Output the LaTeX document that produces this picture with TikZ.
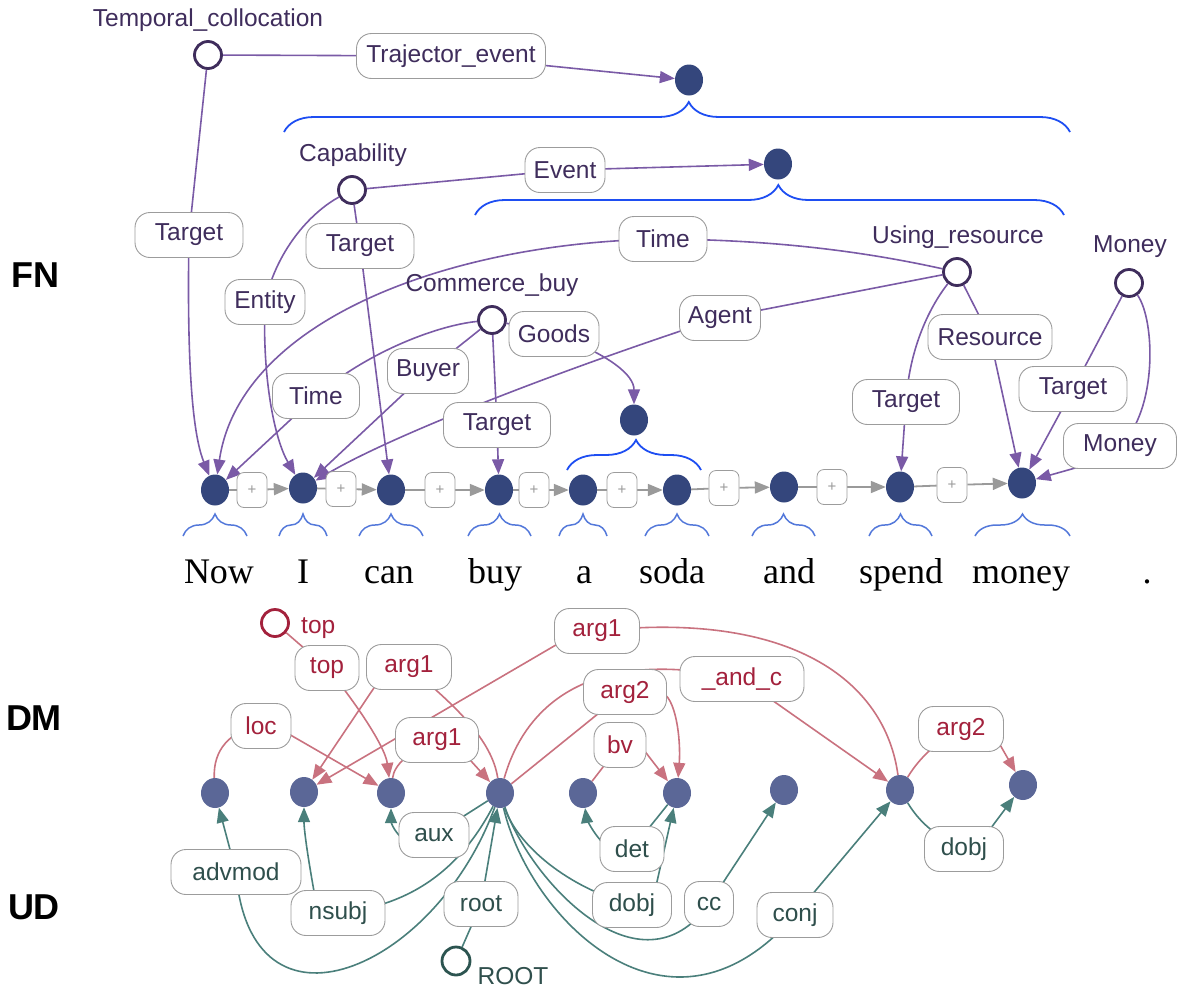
\documentclass[tikz,border=0pt]{standalone}
\usepackage{fontspec}
\setmainfont{Liberation Sans}
\newfontfamily\wordfont{Liberation Serif}
\usetikzlibrary{arrows.meta,decorations.pathreplacing,shapes.geometric}

\definecolor{fnnode}{HTML}{34467C}
\definecolor{fnframe}{HTML}{3F2D5C}
\definecolor{fnedge}{HTML}{7A5AA6}
\definecolor{fntext}{HTML}{3F2D5C}
\definecolor{chaingray}{HTML}{9A9A9A}
\definecolor{boxgray}{HTML}{9C9C9C}
\definecolor{spanblue}{HTML}{1E4EF2}
\definecolor{tokblue}{HTML}{5378DA}
\definecolor{depnode}{HTML}{5B6797}
\definecolor{dmedge}{HTML}{C9727F}
\definecolor{dmtext}{HTML}{A3213C}
\definecolor{udedge}{HTML}{4A7F7B}
\definecolor{udtext}{HTML}{2F4F4C}
\definecolor{udframe}{HTML}{2C5450}

\pgfdeclarelayer{edges}
\pgfsetlayers{edges,main}

\begin{document}
\begin{tikzpicture}[x=1pt,y=-1pt,
  lblfont/.style={font=\fontsize{24.5pt}{28pt}\selectfont},
  side/.style={font=\fontsize{36pt}{40pt}\selectfont\bfseries, text=black},
  word/.style={font=\wordfont\fontsize{36pt}{40pt}\selectfont, anchor=base, inner sep=0pt},
  fntok/.style={ellipse, fill=fnnode, minimum width=28pt, minimum height=31pt, inner sep=0pt},
  deptok/.style={ellipse, fill=depnode, minimum width=28pt, minimum height=30pt, inner sep=0pt},
  frame/.style={circle, draw=fnframe, line width=2.8pt, fill=white, minimum size=27pt, inner sep=0pt},
  dmframe/.style={circle, draw=dmtext, line width=2.8pt, fill=white, minimum size=27pt, inner sep=0pt},
  udframemark/.style={circle, draw=udframe, line width=2.8pt, fill=white, minimum size=28pt, inner sep=0pt},
  framename/.style={lblfont, text=fntext, inner sep=0pt},
  lblbox/.style={lblfont, draw=boxgray, line width=0.9pt, rounded corners=15pt, fill=white,
                 minimum height=45pt, inner xsep=4pt, inner ysep=0pt},
  fnlbl/.style={lblbox, text=fntext},
  dmlbl/.style={lblbox, text=dmtext},
  udlbl/.style={lblbox, text=udtext},
  plusbox/.style={draw=boxgray, line width=0.8pt, rounded corners=7pt, fill=white,
                  minimum width=30pt, minimum height=35pt, inner sep=0pt, text=chaingray,
                  font=\fontsize{15pt}{15pt}\selectfont},
  tip/.style={-{Triangle[length=15pt,width=12pt]}},
  chain/.style={draw=chaingray, line width=1.8pt},
  chainarr/.style={chain, tip},
  fnarr/.style={draw=fnedge, line width=1.6pt, tip},
  dmarr/.style={draw=dmedge, line width=1.6pt, tip},
  udarr/.style={draw=udedge, line width=1.6pt, tip},
  tokbrace/.style={draw=tokblue, line width=1.5pt, decorate, decoration={brace, amplitude=22pt}},
  spanbrace/.style={draw=spanblue, line width=1.8pt, decorate, decoration={brace, amplitude=30pt, aspect=0.515}}
]
\useasboundingbox (0,0) rectangle (1178,991);

% ---------- layer names ----------
\node[side] (labFN) at (35,275) {FN};
\node[side] (labDM) at (34,718) {DM};
\node[side] (labUD) at (34,907) {UD};

% ---------- FrameNet: token nodes and the chain between them ----------
\node[fntok] (f1) at (215,490) {};
\node[fntok] (f2) at (303,488) {};
\node[fntok] (f3) at (391,490) {};
\node[fntok] (f4) at (499,490) {};
\node[fntok] (f5) at (583,490) {};
\node[fntok] (f6) at (677,490) {};
\node[fntok] (f7) at (784,487) {};
\node[fntok] (f8) at (900,487) {};
\node[fntok] (f9) at (1022,483) {};

\node[plusbox] (p1) at (252,490) {+};
\node[plusbox] (p2) at (341,489) {+};
\node[plusbox] (p3) at (440,490) {+};
\node[plusbox] (p4) at (534,490) {+};
\node[plusbox] (p5) at (622,490) {+};
\node[plusbox] (p6) at (724,488) {+};
\node[plusbox] (p7) at (832,487) {+};
\node[plusbox] (p8) at (952,485) {+};

% span nodes
\node[fntok] (s1) at (689,80) {};
\node[fntok] (s2) at (778,164) {};
\node[fntok] (s3) at (634,420) {};

% frames
\node[frame] (fTC) at (208,55) {};
\node[framename] (fTCname) at (208,20) {Temporal\_collocation};
\node[frame] (fCap) at (352,190) {};
\node[framename] (fCapname) at (353,155) {Capability};
\node[frame] (fCB) at (492,320) {};
\node[framename] (fCBname) at (492,285) {Commerce\_buy};
\node[frame] (fUR) at (957,272) {};
\node[framename] (fURname) at (958,237) {Using\_resource};
\node[frame] (fMon) at (1129,283) {};
\node[framename] (fMonname) at (1130,247) {Money};

% frame element labels
\node[fnlbl, minimum width=189pt] (bTraj) at (451,56) {Trajector\_event};
\node[fnlbl, minimum width=108pt] (bTgtA) at (189,235) {Target};
\node[fnlbl, minimum width=80pt] (bEvent) at (565,170) {Event};
\node[fnlbl, minimum width=108pt] (bTgtB) at (360,246) {Target};
\node[fnlbl, minimum width=80pt] (bEntity) at (265,302) {Entity};
\node[fnlbl, minimum width=88pt] (bTimeA) at (663,239) {Time};
\node[fnlbl, minimum width=87pt] (bTimeB) at (316,396) {Time};
\node[fnlbl, minimum width=81pt] (bBuyer) at (428,371) {Buyer};
\node[fnlbl, minimum width=90pt] (bGoods) at (554,334) {Goods};
\node[fnlbl, minimum width=107pt] (bTgtC) at (497,425) {Target};
\node[fnlbl, minimum width=81pt] (bAgent) at (720,318) {Agent};
\node[fnlbl, minimum width=124pt] (bRes) at (990,337) {Resource};
\node[fnlbl, minimum width=107pt] (bTgtD) at (906,402) {Target};
\node[fnlbl, minimum width=108pt] (bTgtE) at (1073,389) {Target};
\node[fnlbl, minimum width=113pt] (bMoney) at (1120,446) {Money};

% braces: tokens and spans
\draw[spanbrace] (284,132) -- (1070,132);
\draw[spanbrace] (475,215) -- (1064,215);
\draw[spanbrace] (567,470) -- (701,470);
\draw[tokbrace] (183,536) -- (247,536);
\draw[tokbrace] (279,536) -- (327,536);
\draw[tokbrace] (359,536) -- (423,536);
\draw[tokbrace] (468,536) -- (531,536);
\draw[tokbrace] (559,536) -- (607,536);
\draw[tokbrace] (645,536) -- (709,536);
\draw[tokbrace] (752,536) -- (815,536);
\draw[tokbrace] (869,536) -- (932,536);
\draw[tokbrace] (975,536) -- (1070,536);

% ---------- sentence ----------
\node[word] (w1) at (219,583) {Now};
\node[word] (w2) at (303,583) {I};
\node[word] (w3) at (389,583) {can};
\node[word] (w4) at (495,583) {buy};
\node[word] (w5) at (584,583) {a};
\node[word] (w6) at (672,583) {soda};
\node[word] (w7) at (789,583) {and};
\node[word] (w8) at (901,583) {spend};
\node[word] (w9) at (1021,583) {money};
\node[word] (w10) at (1147,583) {.};

% ---------- dependency token nodes ----------
\node[deptok] (d1) at (215,793) {};
\node[deptok] (d2) at (304,792) {};
\node[deptok] (d3) at (391,793) {};
\node[deptok] (d4) at (500,793) {};
\node[deptok] (d5) at (583,793) {};
\node[deptok] (d6) at (677,793) {};
\node[deptok] (d7) at (784,790) {};
\node[deptok] (d8) at (900,790) {};
\node[deptok] (d9) at (1023,785) {};

% DM
\node[dmframe] (dTop) at (275,623) {};
\node[anchor=west, lblfont, text=dmtext, inner sep=0pt] (dTopname) at (301,628) {top};
\node[dmlbl, minimum width=64pt] (mTop) at (327,668) {top};
\node[dmlbl, minimum width=85pt] (mArgA) at (409,667) {arg1};
\node[dmlbl, minimum width=60pt] (mLoc) at (261,726) {loc};
\node[dmlbl, minimum width=83pt] (mArgB) at (437,740) {arg1};
\node[dmlbl, minimum width=85pt] (mArgC) at (597,631) {arg1};
\node[dmlbl, minimum width=83pt] (mArg2a) at (625,692) {arg2};
\node[dmlbl, minimum width=52pt] (mBv) at (620,745) {bv};
\node[dmlbl, minimum width=124pt] (mAnd) at (742,679) {\_and\_c};
\node[dmlbl, minimum width=85pt] (mArg2b) at (961,729) {arg2};

% UD
\node[udframemark] (uROOT) at (456,961) {};
\node[lblfont, text=udtext, inner sep=0pt] (uROOTname) at (513,976) {ROOT};
\node[udlbl, minimum width=130pt] (uAdv) at (236,872) {advmod};
\node[udlbl, minimum width=94pt] (uNsubj) at (338,913) {nsubj};
\node[udlbl, minimum width=70pt] (uAux) at (434,835) {aux};
\node[udlbl, minimum width=74pt] (uRoot) at (481,904) {root};
\node[udlbl, minimum width=64pt] (uDet) at (632,849) {det};
\node[udlbl, minimum width=79pt] (uDobjA) at (632,905) {dobj};
\node[udlbl, minimum width=49pt] (uCc) at (709,904) {cc};
\node[udlbl, minimum width=76pt] (uConj) at (795,915) {conj};
\node[udlbl, minimum width=79pt] (uDobjB) at (964,849) {dobj};

% ---------- connectors, drawn beneath the labels ----------
\begin{pgfonlayer}{edges}
  % token chain
  \draw[chain] (f1) -- (p1); \draw[chainarr] (p1) -- (f2);
  \draw[chain] (f2) -- (p2); \draw[chainarr] (p2) -- (f3);
  \draw[chain] (f3) -- (p3); \draw[chainarr] (p3) -- (f4);
  \draw[chain] (f4) -- (p4); \draw[chainarr] (p4) -- (f5);
  \draw[chain] (f5) -- (p5); \draw[chainarr] (p5) -- (f6);
  \draw[chain] (f6) -- (p6); \draw[chainarr] (p6) -- (f7);
  \draw[chain] (f7) -- (p7); \draw[chainarr] (p7) -- (f8);
  \draw[chain] (f8) -- (p8); \draw[chainarr] (p8) -- (f9);

  % FrameNet roles
  \draw[fnarr] (fTC) -- (bTgtA.center) .. controls (186,400) and (197,445) .. (f1);
  \draw[fnarr] (fTC) -- (bTraj.center) -- (s1);
  \draw[fnarr] (fCap) -- (bEvent.center) -- (s2);
  \draw[fnarr] (fCap) -- (bTgtB.center) -- (f3);
  \draw[fnarr] (fCap) .. controls (315,210) and (278,245) .. (bEntity.center)
               .. controls (262,380) and (275,440) .. (f2);
  \draw[fnarr] (fUR) .. controls (880,255) and (790,240) .. (bTimeA.center)
               .. controls (450,242) and (240,320) .. (f1);
  \draw[fnarr] (fUR) -- (bAgent.center) .. controls (560,370) and (393,435) .. (f2);
  \draw[fnarr] (fUR) -- (bRes.center) -- (f9);
  \draw[fnarr] (fUR) .. controls (935,300) and (910,340) .. (bTgtD.center) -- (f8);
  \draw[fnarr] (fMon) -- (bTgtE.center) -- (f9);
  \draw[fnarr] (fMon) .. controls (1155,320) and (1158,410) .. (bMoney.center) -- ++(-20,15) -- (f9);
  \draw[fnarr] (fCB) -- (bGoods.center) .. controls (610,355) and (634,375) .. (s3);
  \draw[fnarr] (fCB) .. controls (440,325) and (370,350) .. (bTimeB.center) -- (f1);
  \draw[fnarr] (fCB) -- (bBuyer.center) -- (f2);
  \draw[fnarr] (fCB) -- (bTgtC.center) -- (f4);

  % DM dependencies
  \draw[dmarr] (dTop) -- (mTop.center) .. controls (350,695) and (385,745) .. (d3);
  \draw[dmarr] (d4) .. controls (492,740) and (455,705) .. (mArgA.center) -- ++(-21,0) -- (d2);
  \draw[dmarr] (d1) .. controls (213,750) and (230,730) .. (mLoc.center) -- ++(0,-8) -- (d3);
  \draw[dmarr] (d3) .. controls (394,765) and (410,750) .. (mArgB.center) -- ++(15,0) -- (d4);
  \draw[dmarr] (d8) .. controls (885,680) and (790,610) .. (mArgC.center) -- ++(0,-10) -- (d2);
  \draw[dmarr] (d4) .. controls (525,705) and (590,645) .. (mAnd.center) -- (d8);
  \draw[dmarr] (d4) -- (mArg2a.center) -- ++(35,0) .. controls (676,695) and (681,740) .. (d6);
  \draw[dmarr] (d5) -- (mBv.center) -- ++(20,0) -- (d6);
  \draw[dmarr] (d8) .. controls (915,765) and (930,745) .. (mArg2b.center) -- ++(30,0) -- (d9);

  % UD dependencies
  \draw[udarr] (uROOT) -- (uRoot.center) -- (d4);
  \draw[udarr] (d4) .. controls (435,970) and (250,1050) .. (uAdv.center) -- (d1);
  \draw[udarr] (d4) .. controls (465,860) and (420,905) .. (uNsubj.center) -- ++(-20,0)
               .. controls (308,860) and (304,830) .. (d2);
  \draw[udarr] (d4) -- (uAux.center) -- ++(-30,5) .. controls (392,830) and (391,820) .. (d3);
  \draw[udarr] (d6) -- (uDet.center) -- ++(-28,-5) .. controls (590,830) and (586,815) .. (d5);
  \draw[udarr] (d4) .. controls (515,840) and (560,885) .. (uDobjA.center) -- ++(22,-10) -- (d6);
  \draw[udarr] (d4) .. controls (530,880) and (640,1000) .. (uCc.center) -- (d7);
  \draw[udarr] (d4) .. controls (530,920) and (670,1060) .. (uConj.center) -- (d8);
  \draw[udarr] (d8) .. controls (915,815) and (930,835) .. (uDobjB.center) -- ++(15,-5) -- (d9);
\end{pgfonlayer}
\end{tikzpicture}
\end{document}
